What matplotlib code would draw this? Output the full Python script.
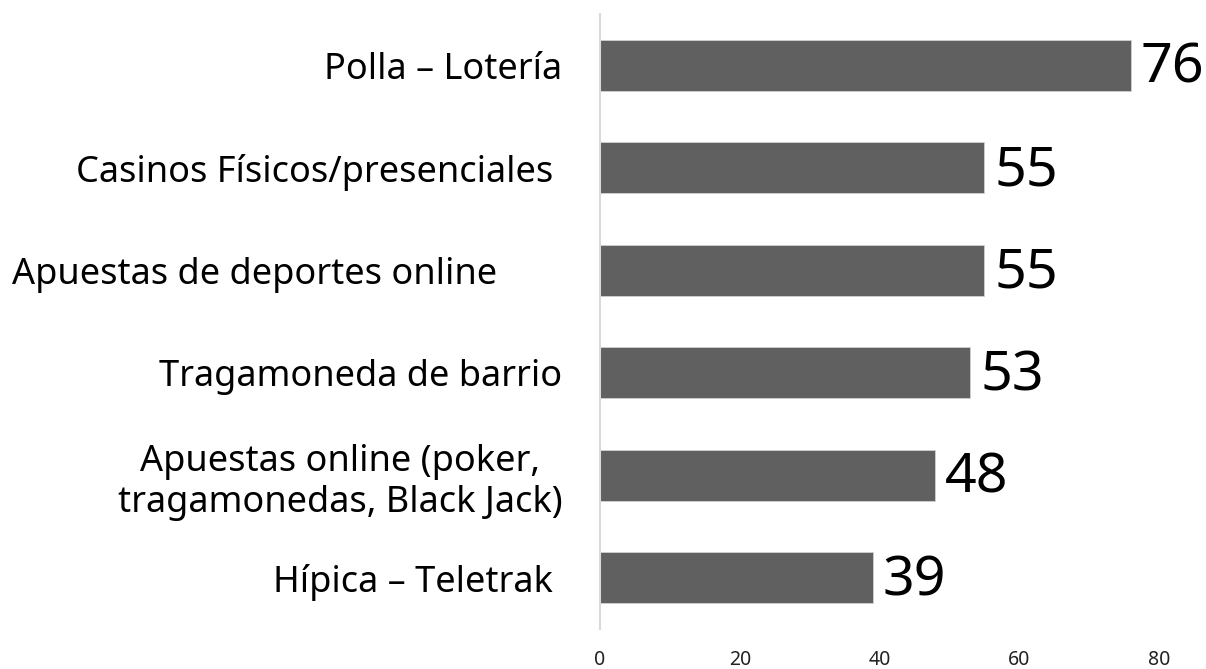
import matplotlib
matplotlib.use("Agg")
import matplotlib.pyplot as plt
import numpy as np

# data (top to bottom)
categories = [
    "Polla \u2013 Loter\u00eda",
    "Casinos F\u00edsicos/presenciales ",
    "Apuestas de deportes online       ",
    "Tragamoneda de barrio",
    "Apuestas online (poker,\ntragamonedas, Black Jack)",
    "H\u00edpica \u2013 Teletrak ",
]
values = [76, 55, 55, 53, 48, 39]
xticks = [0, 20, 40, 60, 80]

plt.rcParams['font.family'] = ['Noto Sans', 'DejaVu Sans']

fig = plt.figure(figsize=(12.06, 6.69), dpi=100)
ax = fig.add_axes([600 / 1206, 1 - 629 / 669, 559 / 1206, 615 / 669])

y = np.arange(len(values))
ax.barh(y, values, height=0.5, color='#606060', edgecolor='#d0d0d0', linewidth=0.6)
ax.set_ylim(len(values) - 0.5, -0.5)
ax.set_xlim(0, 80)

for yi, v in zip(y, values):
    ax.text(v + 1.4, yi + 0.03, str(v), va='center', ha='left', fontsize=40, color='black')

ax.set_yticks(y)
ax.set_yticklabels(categories, fontsize=26, multialignment='center')
ax.set_xticks(xticks)
ax.set_xticklabels([str(t) for t in xticks], fontsize=14, color='#222222')
ax.tick_params(axis='both', length=0)
ax.tick_params(axis='y', pad=27)
ax.tick_params(axis='x', pad=15)

for s in ['top', 'right', 'bottom']:
    ax.spines[s].set_visible(False)
ax.spines['left'].set_color('#d9d9d9')
ax.spines['left'].set_linewidth(1.5)

fig.savefig('out.png', dpi=100)
